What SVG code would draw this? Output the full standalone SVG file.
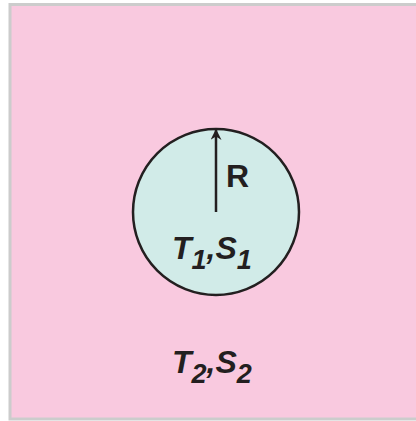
<svg xmlns="http://www.w3.org/2000/svg" width="416" height="421" viewBox="0 0 416 421">
<defs>
<style>
.lbl{font-family:"Liberation Sans",Arial,sans-serif;font-weight:bold;fill:#231f20}
.it{font-style:italic}
.sub{font-size:27px}
</style>
<marker id="ah" viewBox="0 0 10 10" refX="9" refY="5" markerWidth="11" markerHeight="11" markerUnits="userSpaceOnUse" orient="auto">
<path d="M0,0 L10,5 L0,10 L3,5 Z" fill="#231f20"/>
</marker>
</defs>
<rect x="0" y="0" width="416" height="421" fill="#ffffff"/>
<rect x="10" y="4.5" width="414" height="414.5" fill="#f9c9df" stroke="#cccccc" stroke-width="3"/>
<g id="inner">
<circle cx="216" cy="212" r="83" fill="#d1ebe8" stroke="#231f20" stroke-width="2.5"/>
<text class="lbl it" x="172" y="259" font-size="32">T<tspan class="sub" dy="10">1</tspan><tspan dy="-10">,S</tspan><tspan class="sub" dy="10">1</tspan></text>
</g>
<g id="connectors">
<line x1="216" y1="212" x2="216" y2="130" stroke="#231f20" stroke-width="2.5" marker-end="url(#ah)"/>
<text class="lbl" x="226" y="187" font-size="32">R</text>
</g>
<g id="outer">
<text class="lbl it" x="172" y="373" font-size="32">T<tspan class="sub" dy="10">2</tspan><tspan dy="-10">,S</tspan><tspan class="sub" dy="10">2</tspan></text>
</g>
</svg>
